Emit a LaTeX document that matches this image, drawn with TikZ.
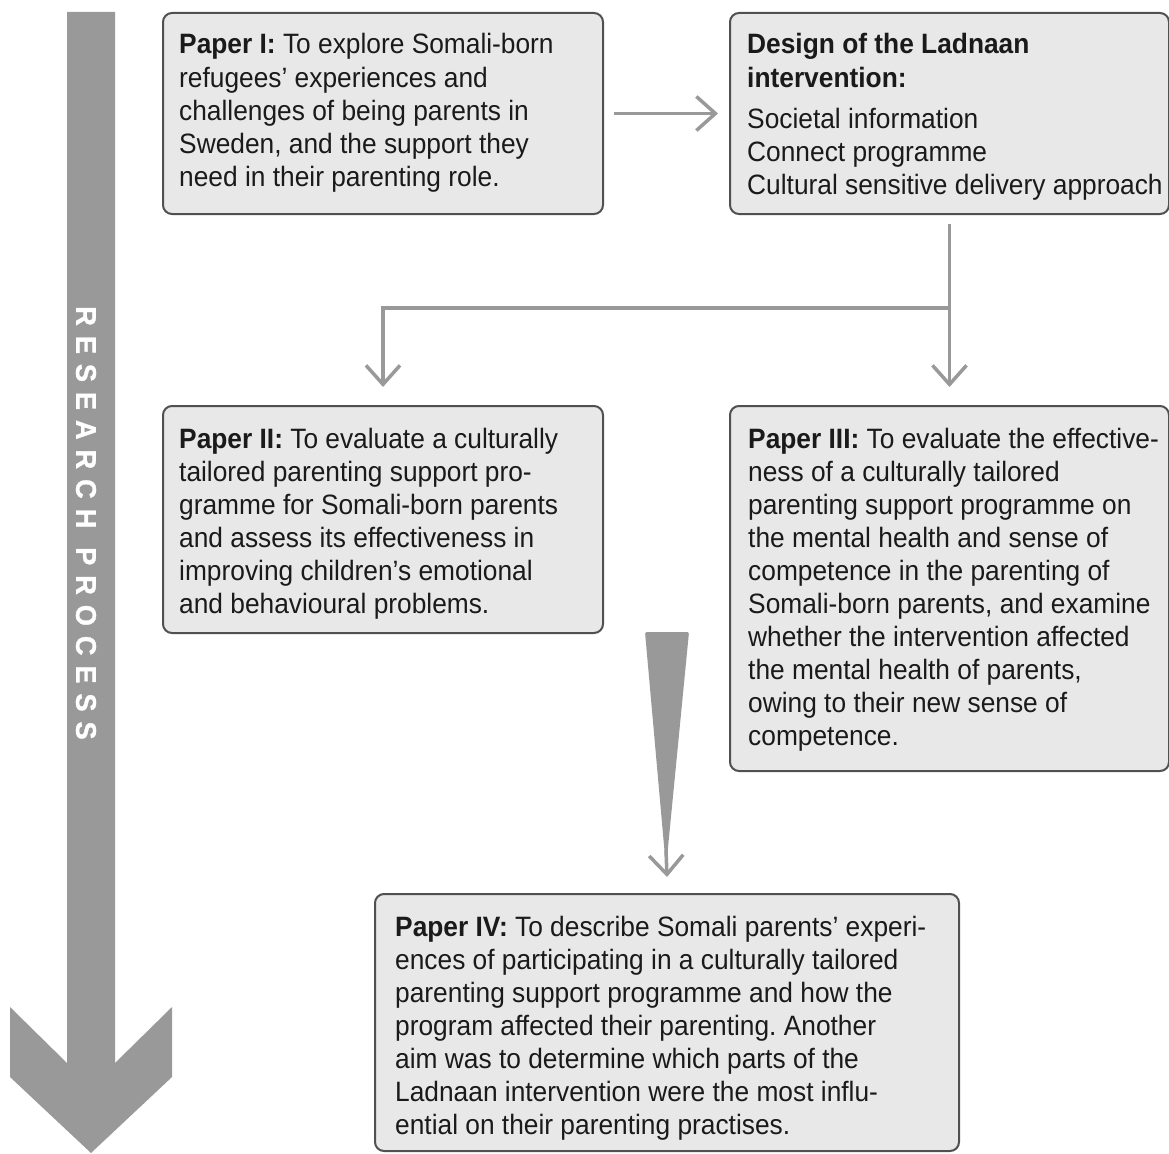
\documentclass[tikz,border=0pt]{standalone}
\usepackage{fontspec}
\setmainfont{Liberation Sans}[FakeStretch=0.94]
\newfontfamily\arrowfont{Liberation Sans}[FakeStretch=0.95, BoldFeatures={FakeBold=1.2}]
\usetikzlibrary{arrows.meta,calc}
\definecolor{boxfill}{HTML}{E8E8E8}
\definecolor{boxline}{HTML}{505050}
\definecolor{conngray}{HTML}{999999}
\definecolor{txt}{HTML}{1A1A1A}
\newcommand\tlines[1]{\vtop{\baselineskip=33.1pt\lineskiplimit=-100pt\lineskip=0pt #1}}
\newcommand\tline[1]{\hbox{#1}}
\newcommand\lsp{\hspace{10pt}}
\frenchspacing
\begin{document}
\begin{tikzpicture}[x=1pt,y=-1pt,
  box/.style={draw=boxline, fill=boxfill, line width=2pt, rounded corners=9pt,
    anchor=north west, inner sep=0pt},
  boxtext/.style={anchor=base west, inner sep=0pt, text=txt,
    font=\fontsize{28}{33}\selectfont},
  conn/.style={draw=conngray, line width=3.5pt,
    -{Straight Barb[length=19pt,width=34pt]}},
]
\useasboundingbox (0,0) rectangle (1169,1153);

% big research-process arrow
\fill[conngray] (67,12) -- (115,12) -- (115,1063) -- (172,1007) -- (172,1077)
  -- (91,1153) -- (10,1077) -- (10,1007) -- (67,1063) -- cycle;
\node[rotate=-90, text=white, inner sep=0pt,
  font=\arrowfont\bfseries\fontsize{28.5}{28.5}\selectfont] (rp) at (86,523)
  {R\lsp E\lsp S\lsp E\lsp A\lsp R\lsp C\lsp H\hspace{19pt}P\lsp R\lsp O\lsp C\lsp E\lsp S\lsp S};

% boxes
\node[box, minimum width=440pt, minimum height=201pt] (p1) at (162,12) {};
\node[box, minimum width=439pt, minimum height=201pt] (des) at (729,12) {};
\node[box, minimum width=440pt, minimum height=227pt] (p2) at (162,405) {};
\node[box, minimum width=439pt, minimum height=365pt] (p3) at (729,405) {};
\node[box, minimum width=584pt, minimum height=257pt] (p4) at (374,893) {};

% texts
\node[boxtext] (p1t) at ($(p1.north west)+(17,42)$) {\tlines{%
  \tline{\textbf{Paper I:} To explore Somali-born}
  \tline{refugees’ experiences and}
  \tline{challenges of being parents in}
  \tline{Sweden, and the support they}
  \tline{need in their parenting role.}}};

\node[boxtext] (dest) at ($(des.north west)+(18,42)$) {\tlines{%
  \tline{\textbf{Design of the Ladnaan}}
  \tline{\textbf{intervention:}}
  \vskip 8pt
  \tline{Societal information}
  \tline{Connect programme}
  \tline{Cultural sensitive delivery approach}}};

\node[boxtext] (p2t) at ($(p2.north west)+(17,43)$) {\tlines{%
  \tline{\textbf{Paper II:} To evaluate a culturally}
  \tline{tailored parenting support pro-}
  \tline{gramme for Somali-born parents}
  \tline{and assess its effectiveness in}
  \tline{improving children’s emotional}
  \tline{and behavioural problems.}}};

\node[boxtext] (p3t) at ($(p3.north west)+(19,43)$) {\tlines{%
  \tline{\textbf{Paper III:} To evaluate the effective-}
  \tline{ness of a culturally tailored}
  \tline{parenting support programme on}
  \tline{the mental health and sense of}
  \tline{competence in the parenting of}
  \tline{Somali-born parents, and examine}
  \tline{whether the intervention affected}
  \tline{the mental health of parents,}
  \tline{owing to their new sense of}
  \tline{competence.}}};

\node[boxtext] (p4t) at ($(p4.north west)+(21,43)$) {\tlines{%
  \tline{\textbf{Paper IV:} To describe Somali parents’ experi-}
  \tline{ences of participating in a culturally tailored}
  \tline{parenting support programme and how the}
  \tline{program affected their parenting. Another}
  \tline{aim was to determine which parts of the}
  \tline{Ladnaan intervention were the most influ-}
  \tline{ential on their parenting practises.}}};

% connectors
\draw[conn] ([xshift=10pt]p1.east) -- ([xshift=-11pt]des.west);
\coordinate (split) at ($(des.south)+(0,93)$);
\draw[conn] ([yshift=-9pt]des.south) -- ([yshift=18pt]p3.north);
\draw[conn] (split) -| ([yshift=18pt]p2.north);

% tapered wedge
\fill[conngray, rounded corners=2pt] (645,632) -- (689,632) -- (666,868) -- cycle;
\coordinate (wtip) at (666,850);
\draw[conn] (wtip) -- ([yshift=16pt]p4.north);
\end{tikzpicture}
\end{document}
